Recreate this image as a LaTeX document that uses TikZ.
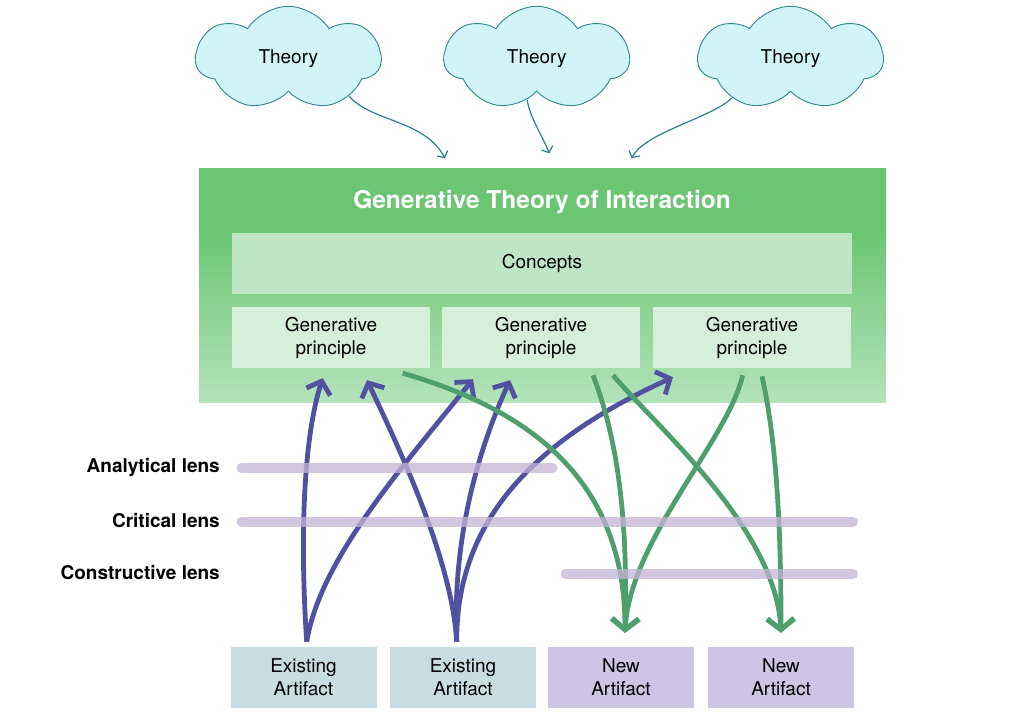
\documentclass[tikz,border=0pt]{standalone}
\usepackage{fontspec}
\setmainfont{TeX Gyre Heros}
\usetikzlibrary{shapes.symbols,arrows.meta}
\definecolor{gtop}{HTML}{6BC572}
\definecolor{gbot}{HTML}{B3E3BA}
\definecolor{conceptfill}{HTML}{BFE6C4}
\definecolor{gpfill}{HTML}{D5EFD8}
\definecolor{exfill}{HTML}{C8DDE2}
\definecolor{newfill}{HTML}{CDC5E3}
\definecolor{cloudfill}{HTML}{D0F4F8}
\definecolor{clouddraw}{HTML}{2E8690}
\definecolor{teal}{HTML}{2A7F8C}
\definecolor{bluearr}{HTML}{5151A1}
\definecolor{greenarr}{HTML}{4F9F6E}
\definecolor{lenscol}{RGB}{196,180,212}
\pgfdeclareverticalshading{gtoishade}{100bp}{color(0bp)=(gbot); color(25bp)=(gbot); color(62bp)=(gtop); color(100bp)=(gtop)}
\begin{document}
\begin{tikzpicture}[x=1pt,y=-1pt,
  txt/.style={font=\fontsize{19}{23}\selectfont, align=center, text=black},
  theorycloud/.style={cloud, cloud puffs=7, cloud puff arc=115, aspect=1.8,
    draw=clouddraw, line width=0.9pt, fill=cloudfill, minimum width=185pt,
    minimum height=104pt, inner sep=0pt, txt},
  innerbox/.style={inner sep=0pt, minimum height=61pt, txt},
  gpbox/.style={innerbox, fill=gpfill, minimum width=198pt},
  artbox/.style={inner sep=0pt, minimum height=61pt, minimum width=146pt, txt},
  cloudarrow/.style={draw=teal, line width=1.2pt, -{Straight Barb[length=5pt,width=12pt]}},
  bluearrow/.style={draw=bluearr, line width=4.8pt, -{Straight Barb[length=11pt,width=25pt]}},
  greenarrow/.style={draw=greenarr, line width=4.8pt, -{Straight Barb[length=11pt,width=27pt]}},
  lens/.style={draw=lenscol, line width=10pt, line cap=round, opacity=0.75},
  lenslabel/.style={font=\fontsize{19}{23}\selectfont\bfseries, anchor=east, inner sep=0pt}
]
\useasboundingbox (0,0) rectangle (1028,720);

% clouds
\node[theorycloud] (c1) at (288.3,58.3) {Theory};
\node[theorycloud] (c2) at (536.7,58.3) {Theory};
\node[theorycloud] (c3) at (790.5,58.3) {Theory};

% main green box
\node[shading=gtoishade, minimum width=687pt, minimum height=234pt, inner sep=0pt] (main) at (542.5,285) {};
\node[font=\fontsize{24.5}{28}\selectfont\bfseries, text=white] (title) at (542,202.5) {Generative Theory of Interaction};
\node[innerbox, fill=conceptfill, minimum width=620pt] (concepts) at (542,263.5) {Concepts};
\node[gpbox] (gp1) at (331,337.5) {Generative\\principle};
\node[gpbox] (gp2) at (541,337.5) {Generative\\principle};
\node[gpbox] (gp3) at (752,337.5) {Generative\\principle};

% cloud arrow targets
\coordinate (t1) at (445,158.3);
\coordinate (t2) at (549.3,153.3);
\coordinate (t3) at (631.7,158.3);
\draw[cloudarrow] (c1.-32) .. controls (372,122) and (425,120) .. (t1);
\draw[cloudarrow] (c2.-103) .. controls (530,118) and (542,135) .. (t2);
\draw[cloudarrow] (c3.-146) .. controls (712,118) and (645,132) .. (t3);

% artifacts
\node[artbox, fill=exfill] (ex1) at (303.5,677.5) {Existing\\Artifact};
\node[artbox, fill=exfill] (ex2) at (463,677.5) {Existing\\Artifact};
\node[artbox, fill=newfill] (new1) at (621,677.5) {New\\Artifact};
\node[artbox, fill=newfill] (new2) at (781,677.5) {New\\Artifact};

% blue arrows (existing -> principles)
\draw[bluearrow] ([xshift=3.2pt,yshift=5pt]ex1.north) .. controls (300,540) and (303,440) .. ([xshift=-8.3pt,yshift=-10pt]gp1.south);
\draw[bluearrow] ([xshift=3.2pt,yshift=5pt]ex1.north) .. controls (320,560) and (400,470) .. ([xshift=-68pt,yshift=-11pt]gp2.south);
\draw[bluearrow] ([xshift=-6.3pt,yshift=5pt]ex2.north) .. controls (452,560) and (400,450) .. ([xshift=36pt,yshift=-12pt]gp1.south);
\draw[bluearrow] ([xshift=-6.3pt,yshift=5pt]ex2.north) .. controls (452,540) and (478,450) .. ([xshift=-31pt,yshift=-12pt]gp2.south);
\draw[bluearrow] ([xshift=-6.3pt,yshift=5pt]ex2.north) .. controls (456,520) and (535,440) .. ([xshift=-79pt,yshift=-9pt]gp3.south);

% green arrows (principles -> new)
\draw[greenarrow] ([xshift=71.7pt,yshift=-5pt]gp1.south) .. controls (530,410) and (625,480) .. ([xshift=4pt,yshift=14pt]new1.north);
\draw[greenarrow] ([xshift=52pt,yshift=-7pt]gp2.south) .. controls (618,440) and (628,520) .. ([xshift=4pt,yshift=14pt]new1.north);
\draw[greenarrow] ([xshift=72pt,yshift=-7pt]gp2.south) .. controls (660,430) and (776,530) .. ([yshift=14pt]new2.north);
\draw[greenarrow] ([xshift=-9.3pt,yshift=-7pt]gp3.south) .. controls (728,440) and (630,540) .. ([xshift=4pt,yshift=14pt]new1.north);
\draw[greenarrow] ([xshift=10pt,yshift=-8pt]gp3.south) .. controls (776,440) and (781,520) .. ([yshift=14pt]new2.north);

% lenses
\node[lenslabel] (la) at (220,467) {Analytical lens};
\node[lenslabel] (lc) at (220,521) {Critical lens};
\node[lenslabel] (lk) at (220,573) {Constructive lens};
\coordinate (a1) at (241.5,468);
\coordinate (a2) at (552.5,468);
\coordinate (b1) at (241.5,521.5);
\coordinate (b2) at (853,521.5);
\coordinate (k1) at (565.5,574);
\coordinate (k2) at (853,574);
\draw[lens] (a1) -- (a2);
\draw[lens] (b1) -- (b2);
\draw[lens] (k1) -- (k2);
\end{tikzpicture}
\end{document}
